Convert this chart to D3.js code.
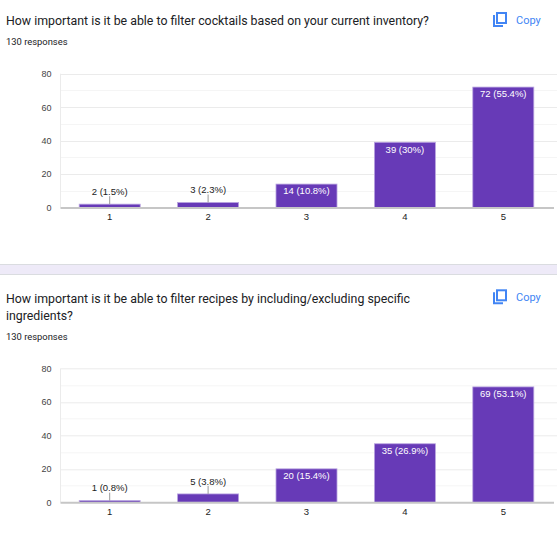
<!DOCTYPE html>
<html>
<head>
<meta charset="utf-8">
<script src="https://cdn.jsdelivr.net/npm/d3@7"></script>
<style>
  body { margin: 0; background: #fff; }
  svg { display: block; }
</style>
</head>
<body>
<div id="chart"></div>
<script>

// answers to both questions, 130 responses each
var categories = ["1", "2", "3", "4", "5"];
var inventoryCounts = [2, 3, 14, 39, 72];
var ingredientCounts = [1, 5, 20, 35, 69];
var totalResponses = 130;
var yTicks = [0, 20, 40, 60, 80];
var inventoryTitle = ["How important is it be able to filter cocktails based on your current inventory?"];
var ingredientTitle = ["How important is it be able to filter recipes by including/excluding specific", "ingredients?"];

var width = 557;
var height = 547;

// 30.0 -> 30, 55.38 -> 55.4
var pformat = d3.format(".1~f");

var svg = d3.select("#chart")
    .append("svg")
    .attr("width", width)
    .attr("height", height);

// draws one question card starting at y0
function questionCard(y0, titleLines, counts) {
    var lineH = 17.5;
    var extra = (titleLines.length - 1) * lineH;
    var g = svg.append("g").attr("transform", "translate(0," + y0 + ")");

    titleLines.forEach(function(t, i) {
        g.append("text")
            .attr("x", 6)
            .attr("y", 21 + i * lineH)
            .attr("dy", "0.35em")
            .style("font-family", "Roboto, sans-serif")
            .style("font-size", "12.35px")
            .attr("fill", "#202124")
            .text(t);
    });

    g.append("text")
        .attr("x", 6)
        .attr("y", 42 + extra)
        .attr("dy", "0.35em")
        .style("font-family", "Roboto, sans-serif")
        .style("font-size", "9.4px")
        .attr("fill", "#202124")
        .text(totalResponses + " responses");

    // copy icon (two stacked pages) and label
    var icon = g.append("g").attr("transform", "translate(493,12)");
    icon.append("path")
        .attr("d", "M1,3 V14 H10")
        .attr("fill", "none")
        .attr("stroke", "#4285f4")
        .attr("stroke-width", 2);
    icon.append("rect")
        .attr("x", 4).attr("y", 1)
        .attr("width", 9).attr("height", 10)
        .attr("fill", "none")
        .attr("stroke", "#4285f4")
        .attr("stroke-width", 2);
    g.append("text")
        .attr("x", 516)
        .attr("y", 20)
        .attr("dy", "0.35em")
        .style("font-family", "Roboto, sans-serif")
        .style("font-size", "11px")
        .attr("fill", "#4285f4")
        .text("Copy");

    var top = 73.7 + extra;
    var bottom = 207.5 + extra;

    var x = d3.scaleBand()
        .domain(categories)
        .range([60.5, 552.5])
        .paddingInner(0.38)
        .paddingOuter(0.19);

    var y = d3.scaleLinear()
        .domain([0, 80])
        .range([bottom, top]);

    // minor and major gridlines
    g.append("g")
        .selectAll("line")
        .data(d3.range(10, 81, 10))
        .enter()
        .append("line")
        .attr("x1", 60.5)
        .attr("x2", width)
        .attr("y1", function(d) { return Math.round(y(d)) + 0.5; })
        .attr("y2", function(d) { return Math.round(y(d)) + 0.5; })
        .attr("stroke", function(d) { return d % 20 === 0 ? "#ebebeb" : "#f5f5f5"; });

    g.append("line")
        .attr("x1", 60.5).attr("x2", 60.5)
        .attr("y1", top).attr("y2", bottom)
        .attr("stroke", "#ebebeb");

    var yAxis = d3.axisLeft(y).tickValues(yTicks).tickSize(0).tickPadding(9);
    var ya = g.append("g").attr("transform", "translate(60.5,0)").call(yAxis);
    ya.select(".domain").remove();
    ya.selectAll("text")
        .style("font-family", "Arial, 'Liberation Sans', sans-serif")
        .style("font-size", "9px")
        .attr("fill", "#444");

    var xAxis = d3.axisBottom(x).tickSize(0).tickPadding(6);
    var xa = g.append("g").attr("transform", "translate(0," + bottom + ")").call(xAxis);
    xa.select(".domain").remove();
    xa.selectAll("text")
        .style("font-family", "Arial, 'Liberation Sans', sans-serif")
        .style("font-size", "9.5px")
        .attr("fill", "#222");

    var rows = counts.map(function(c, i) {
        return { key: categories[i], value: c };
    });

    g.append("g")
        .selectAll("rect")
        .data(rows)
        .enter()
        .append("rect")
        .attr("x", function(d) { return x(d.key); })
        .attr("y", function(d) { return y(d.value); })
        .attr("width", x.bandwidth())
        .attr("height", function(d) { return bottom - y(d.value); })
        .attr("fill", "#673ab7")
        .attr("stroke", "#b9a4e0")
        .attr("stroke-width", 0.8);

    // baseline drawn over the bars
    g.append("line")
        .attr("x1", 60.5).attr("x2", 554)
        .attr("y1", bottom + 0.5).attr("y2", bottom + 0.5)
        .attr("stroke", "#c6c6c6")
        .attr("stroke-width", 2);

    // labels sit inside tall bars, above short ones with a small leader
    var labels = g.append("g")
        .selectAll("g")
        .data(rows)
        .enter()
        .append("g");

    labels.filter(function(d) { return bottom - y(d.value) < 15; })
        .append("line")
        .attr("x1", function(d) { return x(d.key) + x.bandwidth() / 2; })
        .attr("x2", function(d) { return x(d.key) + x.bandwidth() / 2; })
        .attr("y1", function(d) { return y(d.value); })
        .attr("y2", function(d) { return y(d.value) - 8; })
        .attr("stroke", "#999");

    labels.append("text")
        .attr("x", function(d) { return x(d.key) + x.bandwidth() / 2; })
        .attr("y", function(d) {
            return bottom - y(d.value) < 15 ? y(d.value) - 12.5 : y(d.value) + 7;
        })
        .attr("dy", "0.35em")
        .attr("text-anchor", "middle")
        .style("font-family", "Arial, 'Liberation Sans', sans-serif")
        .style("font-size", "9.5px")
        .attr("fill", function(d) { return bottom - y(d.value) < 15 ? "#222" : "#fff"; })
        .text(function(d) {
            return d.value + " (" + pformat(d.value / totalResponses * 100) + "%)";
        });
}

questionCard(0, inventoryTitle, inventoryCounts);

// lavender gap between the two cards
svg.append("rect")
    .attr("x", 0).attr("y", 264)
    .attr("width", width).attr("height", 11)
    .attr("fill", "#eeeaf8");
svg.append("line")
    .attr("x1", 0).attr("x2", width)
    .attr("y1", 264.5).attr("y2", 264.5)
    .attr("stroke", "#dadce0");
svg.append("line")
    .attr("x1", 0).attr("x2", width)
    .attr("y1", 274.5).attr("y2", 274.5)
    .attr("stroke", "#dadce0");

questionCard(277.3, ingredientTitle, ingredientCounts);

</script>
</body>
</html>
